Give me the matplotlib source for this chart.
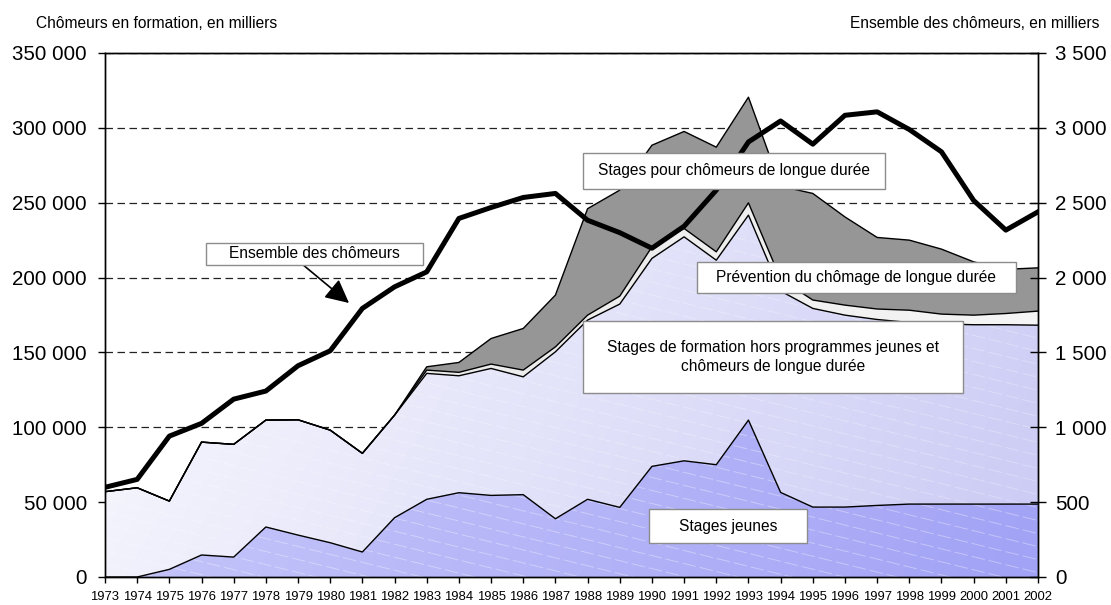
import numpy as np
import matplotlib
matplotlib.use('Agg')
import matplotlib.pyplot as plt
from matplotlib.patches import PathPatch, Rectangle
from matplotlib.collections import LineCollection
from matplotlib.ticker import FuncFormatter
from matplotlib.colors import to_rgb

plt.rcParams['font.family'] = ['Liberation Sans', 'DejaVu Sans']

years = list(range(1973, 2003))
year_labels = [str(y) for y in years]

# couches empilees (chomeurs en formation)
stages_jeunes = [0, 0, 5100, 14700, 13300, 33400, 28000, 22900, 16700, 39600,
                 51900, 56300, 54500, 55000, 38900, 51900, 46500, 73900, 77600, 75000,
                 104800, 56500, 46700, 46700, 47800, 48700, 48700, 48700, 48700, 48700]
stages_formation = [57000, 59600, 45600, 75400, 75300, 71400, 77000, 75200, 65900, 68500,
                    84100, 78100, 84800, 78700, 111500, 119700, 135800, 138900, 149600, 136600,
                    136900, 134500, 132700, 128200, 124200, 121300, 120300, 119800, 119800, 119500]
prevention = [0, 0, 0, 0, 0, 0, 0, 0, 0, 0,
              2200, 2300, 2900, 4500, 3300, 3300, 5300, 7700, 5600, 5600,
              8200, 8000, 5600, 6700, 7000, 8200, 6600, 6400, 7500, 9400]
stages_longue = [0, 0, 0, 0, 0, 0, 0, 0, 0, 0,
                 2200, 6600, 17100, 27800, 34600, 71100, 70800, 67900, 64800, 69900,
                 70600, 62000, 71200, 58900, 47800, 46800, 43400, 35600, 29500, 28900]

# ensemble des chomeurs, en milliers (axe de droite)
total_chomeurs = [599, 652, 941, 1026, 1188, 1242, 1411, 1511, 1794, 1938,
                  2038, 2395, 2468, 2535, 2562, 2383, 2300, 2196, 2343, 2584,
                  2906, 3046, 2891, 3084, 3107, 2989, 2840, 2515, 2317, 2439]


def fmt(v, pos):
    return '{:,.0f}'.format(v).replace(',', ' ')


W, H = 1111, 605
fig = plt.figure(figsize=(W / 100, H / 100), dpi=100)
ax = fig.add_axes([105 / W, 28 / H, 933 / W, 524 / H])

x = np.array(years)
y1 = np.array(stages_jeunes)
y2 = y1 + np.array(stages_formation)
y3 = y2 + np.array(prevention)
y4 = y3 + np.array(stages_longue)


def grad_fill(lo, hi, c0, c1, z):
    poly = ax.fill_between(x, lo, hi, facecolor='none', edgecolor='none', zorder=z)
    clip = PathPatch(poly.get_paths()[0], transform=ax.transData,
                     facecolor='none', edgecolor='none')
    ax.add_patch(clip)
    u, v = np.meshgrid(np.linspace(0, 1, 300), np.linspace(0, 1, 200))
    t = np.clip(0.75 * u + 0.25 * (1 - v), 0, 1)[..., None]
    img = (1 - t) * np.array(to_rgb(c0)) + t * np.array(to_rgb(c1))
    im = ax.imshow(img, extent=[1973, 2002, 0, 350000], origin='lower',
                   aspect='auto', zorder=z, interpolation='bilinear')
    im.set_clip_path(clip)
    return clip


def texture(clip, alpha):
    # fines rayures blanches en diagonale
    segs = []
    for b in np.arange(0, 520000, 8700):
        segs.append([(1973, b), (2002, b - 29 * 5300)])
    lc = LineCollection(segs, colors='white', linewidths=0.7, alpha=alpha,
                        linestyles=(0, (14, 4)), zorder=1.05)
    ax.add_collection(lc)
    lc.set_clip_path(clip)


c1 = grad_fill(0, y1, '#d0d0fb', '#a2a2f6', 1)
c2 = grad_fill(y1, y2, '#ffffff', '#cacaf5', 1)
texture(c1, 0.35)
texture(c2, 0.28)
grad_fill(y2, y3, '#e2e2e2', '#f8f8f8', 1)
ax.fill_between(x, y3, y4, facecolor='#969696', edgecolor='none', zorder=1.1)

for yy in (y1, y2, y3, y4):
    ax.plot(x, yy, color='black', lw=1, zorder=2)

ax.set_xlim(1973, 2002)
ax.set_ylim(0, 350000)
ax.set_xticks(years)
ax.set_xticklabels(year_labels)
ax.set_yticks(range(0, 350001, 50000))
ax.yaxis.set_major_formatter(FuncFormatter(fmt))
ax.set_axisbelow(True)
ax.yaxis.grid(True, linestyle=(0, (6, 3.6)), color='#222222', lw=0.9)
ax.tick_params(axis='y', direction='out', length=5, width=1, pad=8, labelsize=14.8)
ax.tick_params(axis='x', direction='out', length=4, width=1, pad=6, labelsize=9.4)
for s in ax.spines.values():
    s.set_color('black')
    s.set_linewidth(1)

ax2 = ax.twinx()
ax2.plot(x, total_chomeurs, color='black', lw=3.6, zorder=3)
ax2.set_ylim(0, 3500)
ax2.set_yticks(range(0, 3501, 500))
ax2.yaxis.set_major_formatter(FuncFormatter(fmt))
ax2.tick_params(axis='y', direction='inout', length=11, width=1, pad=7, labelsize=14.8)
for s in ax2.spines.values():
    s.set_color('black')
    s.set_linewidth(1)


def box(x0, y0, x1, y1_, text):
    r = Rectangle((x0 / W, 1 - y1_ / H), (x1 - x0) / W, (y1_ - y0) / H,
                  transform=fig.transFigure, facecolor='white',
                  edgecolor='#8c8c8c', lw=1, zorder=5)
    fig.add_artist(r)
    fig.text((x0 + x1) / 2 / W, 1 - (y0 + y1_) / 2 / H, text, ha='center',
             va='center', fontsize=11.2, zorder=6, linespacing=1.3)


box(206, 243, 423, 265, 'Ensemble des chômeurs')
box(583, 153, 885, 189, 'Stages pour chômeurs de longue durée')
box(697, 262, 1016, 293, 'Prévention du chômage de longue durée')
box(583, 321, 963, 393, 'Stages de formation hors programmes jeunes et\nchômeurs de longue durée')
box(649, 509, 807, 543, 'Stages jeunes')

ax2.annotate('', xy=(349, H - 303), xytext=(302, H - 264),
             xycoords='figure pixels', textcoords='figure pixels',
             arrowprops=dict(arrowstyle='-|>,head_length=0.8,head_width=0.4',
                             color='black', lw=1.2, mutation_scale=18,
                             shrinkA=0, shrinkB=0))

fig.text(36 / W, 1 - 23 / H, 'Chômeurs en formation, en milliers',
         ha='left', va='center', fontsize=11.2)
fig.text(1099 / W, 1 - 24 / H, 'Ensemble des chômeurs, en milliers',
         ha='right', va='center', fontsize=11.2)

fig.savefig('out.png', dpi=100)
